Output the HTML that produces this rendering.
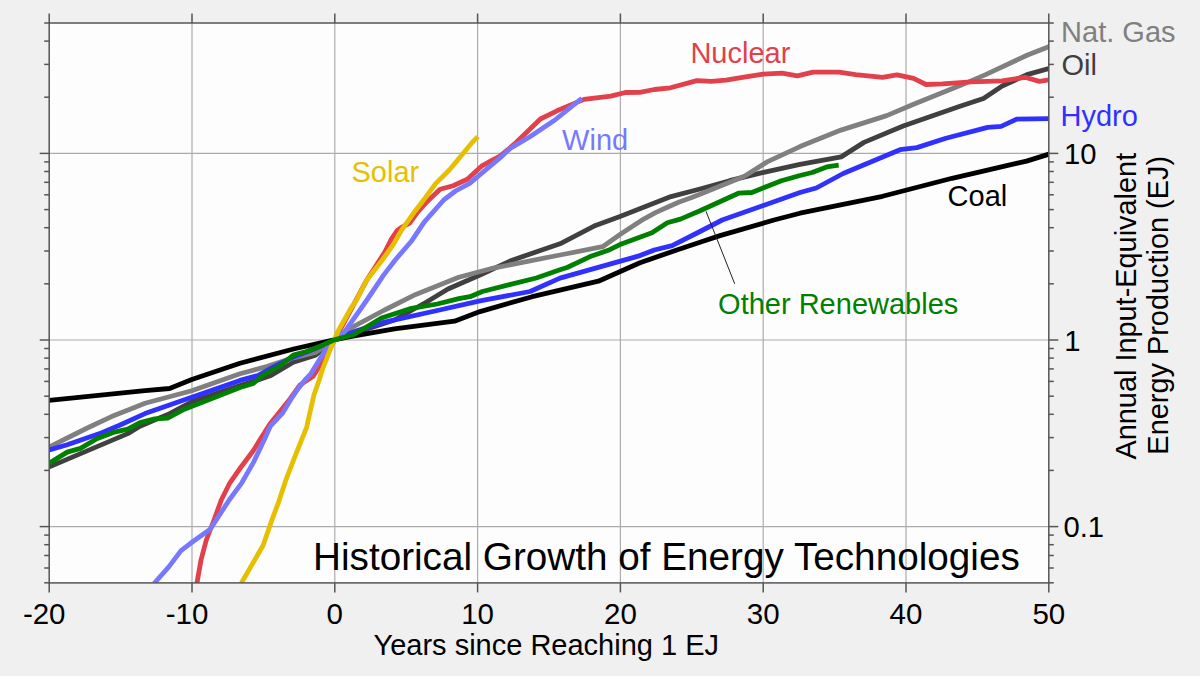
<!DOCTYPE html>
<html><head><meta charset="utf-8"><style>
html,body{margin:0;padding:0;background:#f0f0f0;}
svg{display:block;font-family:"Liberation Sans",sans-serif;}
</style></head><body>
<svg width="1200" height="676" viewBox="0 0 1200 676">
<rect x="0" y="0" width="1200" height="676" fill="#f0f0f0"/>
<rect x="49.2" y="23.0" width="999.6" height="559.9" fill="#fdfdfd"/>
<g stroke="#acacac" stroke-width="1.2">
<line x1="192.0" y1="23.0" x2="192.0" y2="582.9"/>
<line x1="334.8" y1="23.0" x2="334.8" y2="582.9"/>
<line x1="477.6" y1="23.0" x2="477.6" y2="582.9"/>
<line x1="620.4" y1="23.0" x2="620.4" y2="582.9"/>
<line x1="763.2" y1="23.0" x2="763.2" y2="582.9"/>
<line x1="906.0" y1="23.0" x2="906.0" y2="582.9"/>
<line x1="49.2" y1="526.6" x2="1048.8" y2="526.6"/>
<line x1="49.2" y1="340.0" x2="1048.8" y2="340.0"/>
<line x1="49.2" y1="153.4" x2="1048.8" y2="153.4"/>
</g>
<text x="313" y="570" font-size="38.7" fill="#000">Historical Growth of Energy Technologies</text>
<defs><clipPath id="cp"><rect x="49.2" y="23.0" width="999.6" height="559.9"/></clipPath></defs>
<g clip-path="url(#cp)" fill="none" stroke-width="4.8" stroke-linejoin="round" stroke-linecap="butt">
<polyline points="49.4,466.9 89.4,449.9 127.8,433.6 140.0,426.2 169.6,413.6 191.8,401.8 240.0,385.5 257.8,380.0 271.0,375.5 293.3,362.2 315.5,355.1 335.0,339.6 394.4,320.0 426.6,302.0 448.0,289.0 480.0,275.0 511.4,260.4 560.0,243.8 595.5,225.4 620.0,216.4 671.0,196.6 700.0,189.0 729.6,180.7 759.2,173.3 800.0,164.4 841.2,156.9 864.0,142.4 903.2,126.0 960.0,106.3 983.5,98.4 1002.2,86.0 1027.0,74.6 1050.0,68.3" stroke="#404040"/>
<polyline points="49.4,446.9 67.2,438.0 89.4,427.0 111.6,416.6 133.8,407.7 145.0,403.3 191.8,390.7 240.0,373.7 266.6,366.6 293.3,357.8 315.5,352.4 335.0,339.6 351.5,327.7 383.6,310.5 415.8,294.4 458.8,277.3 490.7,268.7 560.0,255.0 602.6,246.7 620.0,234.5 631.8,226.8 643.7,219.1 655.5,212.6 667.3,207.3 679.2,202.0 691.0,197.8 700.0,194.3 744.4,176.2 766.6,162.2 800.0,146.6 841.0,130.1 886.7,115.6 913.6,104.2 960.0,85.6 985.6,74.6 1027.0,55.3 1050.0,46.2" stroke="#808080"/>
<polyline points="49.4,449.9 67.2,444.7 101.2,432.9 119.0,425.5 145.0,413.6 191.8,397.3 240.0,380.4 257.8,375.5 275.5,365.8 293.3,356.9 314.3,349.0 335.0,339.6 355.8,331.0 383.6,322.3 437.3,310.5 480.0,300.9 530.1,291.5 560.0,278.1 640.0,255.6 654.3,250.0 672.1,245.7 700.0,231.5 722.2,220.0 800.0,192.5 816.3,188.0 843.2,173.5 900.0,149.7 916.9,147.6 945.9,138.3 987.7,127.4 1001.1,126.4 1016.7,119.1 1050.0,118.7" stroke="#3030ff"/>
<polyline points="49.0,400.3 145.0,390.7 169.6,388.5 191.8,379.6 240.0,363.3 293.6,349.0 335.0,339.6 351.5,336.3 394.4,328.8 454.5,321.2 480.0,311.6 532.2,296.7 598.4,281.2 640.0,262.7 676.8,250.0 700.0,242.2 720.0,235.6 774.0,220.0 800.0,213.2 882.6,196.3 952.1,178.3 1026.6,161.1 1050.0,153.8" stroke="#000000"/>
<polyline points="196.8,584.0 201.0,560.0 206.3,540.0 214.0,520.0 221.3,500.0 229.9,482.8 240.3,468.0 253.6,450.3 259.8,440.0 269.9,424.0 281.0,410.2 290.0,399.0 300.0,385.0 313.1,376.2 323.8,359.6 335.0,339.6 366.5,280.5 384.8,252.1 391.0,239.7 397.3,230.4 401.4,227.3 409.7,223.1 418.0,211.7 427.3,201.4 440.1,189.2 453.1,185.7 467.3,179.2 481.5,166.2 491.0,160.8 500.0,156.1 514.3,144.2 540.4,119.0 557.0,110.8 583.9,99.4 610.8,96.2 625.3,92.5 639.8,92.3 654.3,89.5 670.5,87.8 696.9,80.6 711.4,81.4 726.0,80.2 742.5,77.3 763.2,74.1 781.9,73.1 797.4,75.8 813.0,72.1 839.0,72.1 855.6,74.6 882.5,77.3 897.0,74.8 913.6,78.3 926.0,84.5 942.6,83.9 971.1,81.8 1002.2,80.8 1025.0,77.3 1039.5,81.4 1050.0,79.7" stroke="#e2404a"/>
<polyline points="154.0,583.5 169.0,566.6 181.0,550.6 193.0,541.5 210.2,529.3 229.2,500.0 241.8,482.8 253.6,462.1 264.2,440.0 270.4,426.1 282.8,412.8 290.8,399.5 297.9,388.9 305.0,380.0 310.8,373.8 320.2,358.4 328.5,345.4 335.0,339.6 344.6,331.8 366.9,300.0 383.6,275.1 395.2,260.0 411.8,240.7 424.2,222.1 443.7,200.0 455.5,191.0 469.7,183.3 481.5,173.3 500.0,157.9 510.2,148.4 530.0,136.7 554.9,120.0 581.8,98.3" stroke="#7878ff"/>
<polyline points="241.4,583.0 263.2,545.2 272.5,518.3 278.7,501.8 285.9,480.0 294.8,456.9 306.6,427.3 314.0,394.8 319.2,380.0 322.6,369.0 330.9,347.8 338.0,331.2 351.5,307.3 356.5,300.0 366.5,280.5 382.3,260.0 393.1,244.9 401.4,230.4 413.8,212.8 424.2,199.3 435.4,183.9 449.6,169.7 461.4,155.5 472.1,142.5 478.0,136.6" stroke="#e6c000"/>
<polyline points="49.4,463.2 67.2,452.1 80.5,448.4 96.8,438.8 114.5,432.1 127.8,429.2 140.0,422.5 154.8,418.8 168.1,418.0 184.4,409.2 240.0,387.5 253.3,383.5 262.2,375.5 280.0,365.8 293.3,355.1 306.6,351.5 320.0,346.2 335.0,339.6 353.5,334.8 381.5,318.0 411.5,308.4 437.3,304.0 458.8,298.7 470.0,296.7 482.4,291.5 536.3,278.0 560.0,269.8 567.1,267.5 589.6,256.8 609.7,249.7 620.0,244.6 652.0,232.7 667.3,222.7 680.4,219.1 700.0,210.8 738.5,193.2 751.8,192.5 781.4,180.7 800.0,175.5 812.2,172.5 826.7,166.9 838.7,165.2" stroke="#008000"/>
</g>
<line x1="706" y1="211.3" x2="734.7" y2="283.8" stroke="#222" stroke-width="1"/>
<rect x="49.2" y="23.0" width="999.6" height="559.9" fill="none" stroke="#555" stroke-width="1.5"/>
<g stroke="#555" stroke-width="1.5">
<line x1="49.2" y1="582.9" x2="49.2" y2="592.4"/>
<line x1="49.2" y1="13.5" x2="49.2" y2="23.0"/>
<line x1="192.0" y1="582.9" x2="192.0" y2="592.4"/>
<line x1="192.0" y1="13.5" x2="192.0" y2="23.0"/>
<line x1="334.8" y1="582.9" x2="334.8" y2="592.4"/>
<line x1="334.8" y1="13.5" x2="334.8" y2="23.0"/>
<line x1="477.6" y1="582.9" x2="477.6" y2="592.4"/>
<line x1="477.6" y1="13.5" x2="477.6" y2="23.0"/>
<line x1="620.4" y1="582.9" x2="620.4" y2="592.4"/>
<line x1="620.4" y1="13.5" x2="620.4" y2="23.0"/>
<line x1="763.2" y1="582.9" x2="763.2" y2="592.4"/>
<line x1="763.2" y1="13.5" x2="763.2" y2="23.0"/>
<line x1="906.0" y1="582.9" x2="906.0" y2="592.4"/>
<line x1="906.0" y1="13.5" x2="906.0" y2="23.0"/>
<line x1="1048.8" y1="582.9" x2="1048.8" y2="592.4"/>
<line x1="1048.8" y1="13.5" x2="1048.8" y2="23.0"/>
<line x1="44.2" y1="582.8" x2="49.2" y2="582.8"/>
<line x1="1048.8" y1="582.8" x2="1053.8" y2="582.8"/>
<line x1="44.2" y1="568.0" x2="49.2" y2="568.0"/>
<line x1="1048.8" y1="568.0" x2="1053.8" y2="568.0"/>
<line x1="44.2" y1="555.5" x2="49.2" y2="555.5"/>
<line x1="1048.8" y1="555.5" x2="1053.8" y2="555.5"/>
<line x1="44.2" y1="544.7" x2="49.2" y2="544.7"/>
<line x1="1048.8" y1="544.7" x2="1053.8" y2="544.7"/>
<line x1="44.2" y1="535.1" x2="49.2" y2="535.1"/>
<line x1="1048.8" y1="535.1" x2="1053.8" y2="535.1"/>
<line x1="39.7" y1="526.6" x2="49.2" y2="526.6"/>
<line x1="1048.8" y1="526.6" x2="1058.3" y2="526.6"/>
<line x1="44.2" y1="470.4" x2="49.2" y2="470.4"/>
<line x1="1048.8" y1="470.4" x2="1053.8" y2="470.4"/>
<line x1="44.2" y1="437.6" x2="49.2" y2="437.6"/>
<line x1="1048.8" y1="437.6" x2="1053.8" y2="437.6"/>
<line x1="44.2" y1="414.3" x2="49.2" y2="414.3"/>
<line x1="1048.8" y1="414.3" x2="1053.8" y2="414.3"/>
<line x1="44.2" y1="396.2" x2="49.2" y2="396.2"/>
<line x1="1048.8" y1="396.2" x2="1053.8" y2="396.2"/>
<line x1="44.2" y1="381.4" x2="49.2" y2="381.4"/>
<line x1="1048.8" y1="381.4" x2="1053.8" y2="381.4"/>
<line x1="44.2" y1="368.9" x2="49.2" y2="368.9"/>
<line x1="1048.8" y1="368.9" x2="1053.8" y2="368.9"/>
<line x1="44.2" y1="358.1" x2="49.2" y2="358.1"/>
<line x1="1048.8" y1="358.1" x2="1053.8" y2="358.1"/>
<line x1="44.2" y1="348.5" x2="49.2" y2="348.5"/>
<line x1="1048.8" y1="348.5" x2="1053.8" y2="348.5"/>
<line x1="39.7" y1="340.0" x2="49.2" y2="340.0"/>
<line x1="1048.8" y1="340.0" x2="1058.3" y2="340.0"/>
<line x1="44.2" y1="283.8" x2="49.2" y2="283.8"/>
<line x1="1048.8" y1="283.8" x2="1053.8" y2="283.8"/>
<line x1="44.2" y1="251.0" x2="49.2" y2="251.0"/>
<line x1="1048.8" y1="251.0" x2="1053.8" y2="251.0"/>
<line x1="44.2" y1="227.7" x2="49.2" y2="227.7"/>
<line x1="1048.8" y1="227.7" x2="1053.8" y2="227.7"/>
<line x1="44.2" y1="209.6" x2="49.2" y2="209.6"/>
<line x1="1048.8" y1="209.6" x2="1053.8" y2="209.6"/>
<line x1="44.2" y1="194.8" x2="49.2" y2="194.8"/>
<line x1="1048.8" y1="194.8" x2="1053.8" y2="194.8"/>
<line x1="44.2" y1="182.3" x2="49.2" y2="182.3"/>
<line x1="1048.8" y1="182.3" x2="1053.8" y2="182.3"/>
<line x1="44.2" y1="171.5" x2="49.2" y2="171.5"/>
<line x1="1048.8" y1="171.5" x2="1053.8" y2="171.5"/>
<line x1="44.2" y1="161.9" x2="49.2" y2="161.9"/>
<line x1="1048.8" y1="161.9" x2="1053.8" y2="161.9"/>
<line x1="39.7" y1="153.4" x2="49.2" y2="153.4"/>
<line x1="1048.8" y1="153.4" x2="1058.3" y2="153.4"/>
<line x1="44.2" y1="97.2" x2="49.2" y2="97.2"/>
<line x1="1048.8" y1="97.2" x2="1053.8" y2="97.2"/>
<line x1="44.2" y1="64.4" x2="49.2" y2="64.4"/>
<line x1="1048.8" y1="64.4" x2="1053.8" y2="64.4"/>
<line x1="44.2" y1="41.1" x2="49.2" y2="41.1"/>
<line x1="1048.8" y1="41.1" x2="1053.8" y2="41.1"/>
<line x1="44.2" y1="23.0" x2="49.2" y2="23.0"/>
<line x1="1048.8" y1="23.0" x2="1053.8" y2="23.0"/>
</g>
<g font-size="29">
<text x="351.5" y="182" fill="#e6c000">Solar</text>
<text x="562.1" y="150.1" fill="#7878ff">Wind</text>
<text x="690.4" y="62.8" fill="#e2404a">Nuclear</text>
<text x="947.6" y="206" fill="#000">Coal</text>
<text x="718.1" y="313.8" font-size="29" fill="#008000">Other Renewables</text>
<text x="1061.1" y="42.1" fill="#808080">Nat. Gas</text>
<text x="1061.5" y="74.8" fill="#404040">Oil</text>
<text x="1060.5" y="126.3" fill="#3030ff">Hydro</text>
</g>
<g font-size="29.2" fill="#000">
<text x="1064" y="164">10</text>
<text x="1064.3" y="350.5">1</text>
<text x="1063.5" y="537.2">0.1</text>
</g>
<g font-size="29.5" fill="#000" text-anchor="middle">
<text x="44.2" y="624">-20</text>
<text x="187.0" y="624">-10</text>
<text x="334.8" y="624">0</text>
<text x="477.6" y="624">10</text>
<text x="620.4" y="624">20</text>
<text x="763.2" y="624">30</text>
<text x="906.0" y="624">40</text>
<text x="1048.8" y="624">50</text>
</g>
<text x="373.5" y="655" font-size="29" fill="#000">Years since Reaching 1 EJ</text>
<g font-size="28.9" fill="#000" text-anchor="middle">
<text transform="translate(1136,306.2) rotate(-90)">Annual Input-Equivalent</text>
<text transform="translate(1168,305.3) rotate(-90)">Energy Production (EJ)</text>
</g>
</svg>
</body></html>
